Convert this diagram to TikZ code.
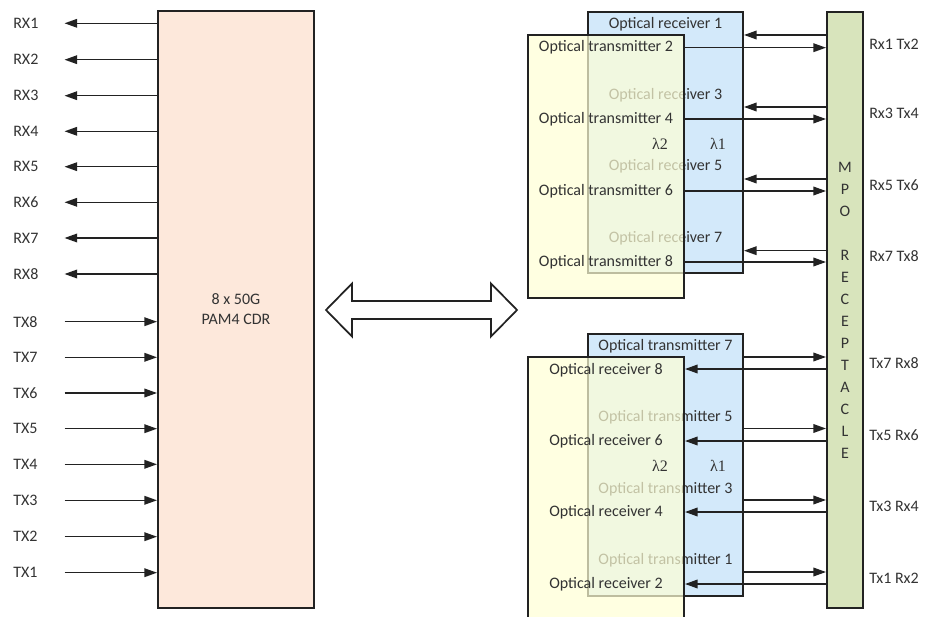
\documentclass[tikz,border=0pt]{standalone}
\usepackage{fontspec}
\setmainfont{Carlito}
\newfontfamily\lamfont{Liberation Serif}
\usetikzlibrary{arrows.meta}
\definecolor{txt}{HTML}{333333}
\definecolor{ln}{HTML}{222222}
\definecolor{cdrfill}{HTML}{FDE8DB}
\definecolor{bluef}{HTML}{D3E9FA}
\definecolor{yelf}{HTML}{FFFFD5}
\definecolor{mpof}{HTML}{D8E4BC}
\begin{document}
\begin{tikzpicture}[x=0.75pt,y=-0.75pt,
  every node/.style={font=\fontsize{12}{14.5}\selectfont, text=txt},
  box/.style={draw=ln, line width=1.5pt, inner sep=0pt, rectangle},
  sig/.style={draw=ln, line width=1.1pt, -{Triangle[length=9.5pt,width=6.5pt]}},
  lab/.style={anchor=west, inner sep=0pt, text width=38.25pt, align=left},
  rlab/.style={anchor=west, inner sep=0pt},
  lam/.style={font=\lamfont\fontsize{12}{14.5}\selectfont},
  yelbox/.style={box, fill=yelf, fill opacity=0.7, draw opacity=1},
  bluebox/.style={box, fill=bluef},
]
\clip (0,0) rectangle (929,617);
\fill[white] (0,0) rectangle (929,617);

% CDR block
\node[box, fill=cdrfill, minimum width=117pt, minimum height=447.4pt] (cdr) at (236,309.75) {};
\node[align=center, inner sep=0pt] (cdrtxt) at (236,309) {8 x 50G\\PAM4 CDR};

% left labels and arrows
\foreach \n/\y in {1/23.3,2/59.7,3/95.7,4/131.3,5/166.7,6/202.3,7/238,8/274}{
  \node[lab] (RX\n) at (13,\y) {RX\n};
  \draw[sig] (cdr.west |- RX\n) -- (RX\n.east);
}
\foreach \n/\y in {8/321.7,7/357.3,6/393,5/428.7,4/464.3,3/500.3,2/536.7,1/572.7}{
  \node[lab] (TX\n) at (13,\y) {TX\n};
  \draw[sig] (TX\n.east) -- (cdr.west |- TX\n);
}

% double arrow
\draw[draw=ln, line width=1.3pt, fill=white, line join=miter]
  (326,310) -- (352,283.5) -- (352,301) -- (491,301) -- (491,283.5) -- (517,310)
  -- (491,336.5) -- (491,319) -- (352,319) -- (352,336.5) -- cycle;

% MPO receptacle
\node[box, fill=mpof, minimum width=27pt, minimum height=447pt] (mpo) at (845,310) {};
\node[align=center, inner sep=0pt, font=\fontsize{12}{16.5}\selectfont] (mpotxt) at (mpo.center)
  {M\\P\\O\\[16.5pt]R\\E\\C\\E\\P\\T\\A\\C\\L\\E};

% ---------- top group ----------
\node[bluebox, minimum width=116.25pt, minimum height=195.75pt] (blueT) at (665.5,142.5) {};
\node (or1) at (665.5,24) {Optical receiver 1};
\node (or3) at (665.5,95.7) {Optical receiver 3};
\node (or5) at (665.5,166.7) {Optical receiver 5};
\node (or7) at (665.5,238) {Optical receiver 7};
\node[lam] (l1T) at (718,144) {λ1};
\node[yelbox, minimum width=117pt, minimum height=197.25pt] (yelT) at (606,166.5) {};
\node (ot2) at (606,47.7) {Optical transmitter 2};
\node (ot4) at (606,119) {Optical transmitter 4};
\node (ot6) at (606,191) {Optical transmitter 6};
\node (ot8) at (606,262) {Optical transmitter 8};
\node[lam] (l2T) at (660,144) {λ2};

\foreach \a/\b in {35/47.7,107/119,179/191,250.7/262}{
  \draw[sig] (mpo.west |- 0,\a) -- (blueT.east |- 0,\a);
  \draw[sig] (yelT.east |- 0,\b) -- (mpo.west |- 0,\b);
}
\node[rlab] (p1) at (869,44) {Rx1 Tx2};
\node[rlab] (p3) at (869,113) {Rx3 Tx4};
\node[rlab] (p5) at (869,185) {Rx5 Tx6};
\node[rlab] (p7) at (869,256) {Rx7 Tx8};

% ---------- bottom group ----------
\node[bluebox, minimum width=116.25pt, minimum height=196.5pt] (blueB) at (665.5,465) {};
\node (bt7) at (665.5,346) {Optical transmitter 7};
\node (bt5) at (665.5,417) {Optical transmitter 5};
\node (bt3) at (665.5,489) {Optical transmitter 3};
\node (bt1) at (665.5,560) {Optical transmitter 1};
\node[lam] (l1B) at (718,466) {λ1};
\node[yelbox, minimum width=117pt, minimum height=198pt] (yelB) at (606,489) {};
\node (br8) at (606,370) {Optical receiver 8};
\node (br6) at (606,441) {Optical receiver 6};
\node (br4) at (606,512) {Optical receiver 4};
\node (br2) at (606,584) {Optical receiver 2};
\node[lam] (l2B) at (660,466) {λ2};

\foreach \a/\b in {357/369,428.5/441,500/512,572/584}{
  \draw[sig] (blueB.east |- 0,\a) -- (mpo.west |- 0,\a);
  \draw[sig] (mpo.west |- 0,\b) -- (yelB.east |- 0,\b);
}
\node[rlab] (q7) at (869,363) {Tx7 Rx8};
\node[rlab] (q5) at (869,435) {Tx5 Rx6};
\node[rlab] (q3) at (869,506) {Tx3 Rx4};
\node[rlab] (q1) at (869,578) {Tx1 Rx2};
\end{tikzpicture}
\end{document}
